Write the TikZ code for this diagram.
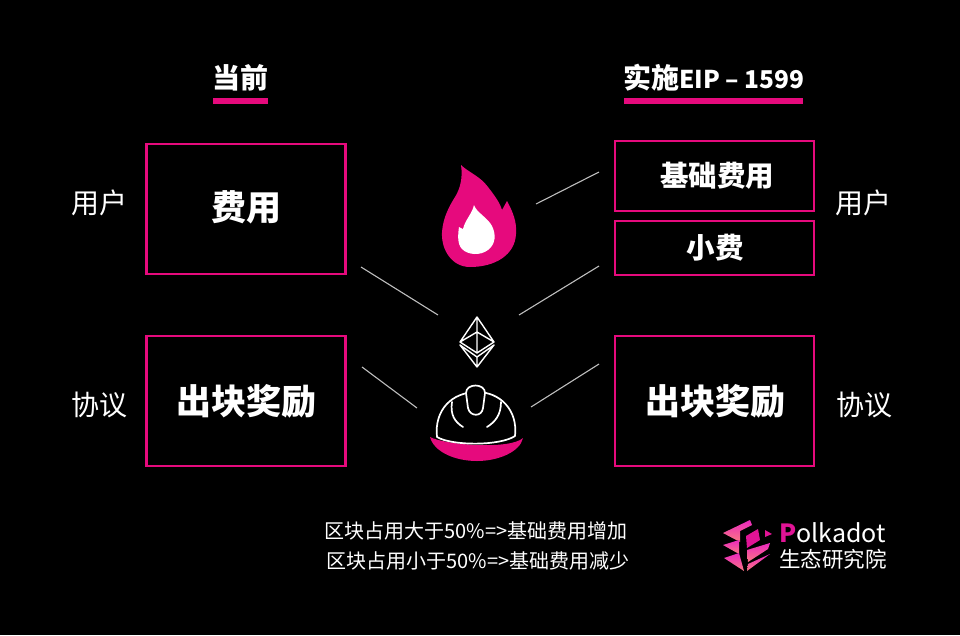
\documentclass[tikz,border=0pt]{standalone}
\usepackage{fontspec}
\setmainfont{Noto Sans CJK SC}
\usepackage{tikz}
\usetikzlibrary{positioning}
\definecolor{cPink}{RGB}{230,10,125}
\definecolor{cLine}{RGB}{190,190,190}
\definecolor{cLogoA}{RGB}{235,40,190}
\definecolor{cLogoB}{RGB}{250,120,130}
\definecolor{cLogoC}{RGB}{225,20,150}
\tikzset{
  feebox/.style={rectangle,draw=cPink,line width=2.2pt,inner sep=0pt,
                 align=center,text=white,font=\bfseries},
  sidelabel/.style={text=white,inner sep=0pt,font=\fontsize{28}{32}\selectfont},
  headlabel/.style={text=white,inner sep=0pt,font=\fontsize{28}{32}\selectfont\bfseries},
  headbar/.style={fill=cPink,draw=none,inner sep=0pt,minimum height=6pt},
  footlabel/.style={text=white,inner sep=0pt,font=\fontsize{20}{24}\selectfont},
  link/.style={draw=cLine,line width=1.1pt},
  iconline/.style={draw=white,line width=1.7pt,line join=round,line cap=round},
  logopart/.style={top color=cLogoA,bottom color=cLogoB,draw=none}
}
\begin{document}
\begin{tikzpicture}[x=1pt,y=-1pt]
  \fill[black] (0,0) rectangle (960,635);
  \useasboundingbox (0,0) rectangle (960,635);

  % headings
  \node[headlabel] (nowhead) at (240.5,78) {当前};
  \node[headbar,minimum width=55pt] (nowbar) at (240.5,100.5) {};
  \node[headlabel] (eiphead) at (714,78) {实施{\fontsize{24.5}{30}\selectfont EIP – 1599}};
  \node[headbar,minimum width=179pt] (eipbar) at (713.5,100.5) {};

  % left boxes
  \node[feebox,minimum width=199pt,minimum height=130pt,
        font=\fontsize{35}{40}\selectfont\bfseries] (fee) at (246,209)
      {\raisebox{6pt}{费用}};
  \node[feebox,minimum width=199pt,minimum height=130pt,
        font=\fontsize{35}{40}\selectfont\bfseries] (reward) at (246,401)
      {\raisebox{-5pt}{出块奖励}};

  % right boxes
  \node[feebox,minimum width=199pt,minimum height=70pt,
        font=\fontsize{28.5}{32}\selectfont\bfseries] (basefee) at (714.5,176)
      {\hspace{5pt}\raisebox{-3pt}{基础费用}};
  \node[feebox,minimum width=199pt,minimum height=54pt,
        font=\fontsize{28.5}{32}\selectfont\bfseries] (tip) at (714.5,248)
      {\hspace{1pt}小费};
  \node[feebox,minimum width=199pt,minimum height=130pt,
        font=\fontsize{35}{40}\selectfont\bfseries] (newreward) at (714.5,401)
      {\hspace{2pt}\raisebox{-5pt}{出块奖励}};

  % side labels
  \node[sidelabel] (userl) at (99.5,203) {用户};
  \node[sidelabel] (protol) at (99.5,405) {协议};
  \node[sidelabel] (userr) at (863.5,203) {用户};
  \node[sidelabel] (protor) at (864.5,405) {协议};

  % flame
  \fill[cPink] (461,165) .. controls (468,172) and (480,176) .. (488,187)
    .. controls (495,196) and (500,203) .. (502,210) -- (507,201)
    .. controls (513,212) and (517,222) .. (516,234)
    .. controls (515,255) and (495,267) .. (470,267)
    .. controls (452,267) and (441,250) .. (442,232)
    .. controls (443,217) and (450,205) .. (455,197)
    .. controls (460,189) and (463,178) .. (461,165) -- cycle;
  \fill[white] (474,205) .. controls (476,212) and (488,218) .. (492,226)
    .. controls (496,234) and (496,244) .. (488,250)
    .. controls (480,256) and (468,255) .. (462,249)
    .. controls (457,244) and (458,234) .. (459,227)
    -- (463,229) .. controls (465,220) and (472,214) .. (474,205) -- cycle;

  % ether
  \draw[iconline,line width=1.4pt] (477,317) -- (460,342) -- (477,353) -- (494,342) -- cycle
    (460,342) -- (477,332) -- (494,342) (477,317) -- (477,353)
    (460,345) -- (477,367) -- (494,345) (460,345) -- (477,357) -- (494,345)
    (477,357) -- (477,367);

  % helmet
  \fill[cPink] (430,437) .. controls (445,445) and (510,450) .. (523,438)
    .. controls (520,452) and (498,461) .. (477,461)
    .. controls (455,461) and (434,452) .. (430,437) -- cycle;
  \draw[iconline] (437,437) .. controls (434,410) and (452,392) .. (477,392)
    .. controls (500,392) and (518,410) .. (515,436)
    .. controls (500,446) and (452,446) .. (437,437) -- cycle;
  \draw[iconline,fill=black] (466,393) .. controls (466,383) and (485,383) .. (485,393)
    -- (483,408) .. controls (482,417) and (470,417) .. (468,408) -- cycle;
  \draw[iconline] (452,402) .. controls (450,415) and (455,422) .. (463,427)
    (501,402) .. controls (501,415) and (495,422) .. (487,427);

  % connectors
  \coordinate (feeout) at (361,267);
  \coordinate (feein) at (438,315);
  \coordinate (rewardout) at (362,367);
  \coordinate (rewardin) at (417,408);
  \coordinate (baseout) at (599,172);
  \coordinate (basein) at (536,204);
  \coordinate (tipout) at (599,266);
  \coordinate (tipin) at (519,315);
  \coordinate (newout) at (599,364);
  \coordinate (newin) at (531,407);
  \draw[link] (feeout) -- (feein);
  \draw[link] (rewardout) -- (rewardin);
  \draw[link] (baseout) -- (basein);
  \draw[link] (tipout) -- (tipin);
  \draw[link] (newout) -- (newin);

  % footer
  \node[footlabel] (footup) at (476,531) {区块占用大于50\%=>基础费用增加};
  \node[footlabel] (footdown) at (478,561) {区块占用小于50\%=>基础费用减少};

  % logo
  \fill[logopart] (723,533) -- (750,520) -- (752,525) -- (740,531) -- (740,542) -- cycle;
  \fill[logopart] (723,545) -- (739,540) -- (739,554) -- cycle;
  \fill[logopart] (724,558) -- (739,553) -- (744,571) -- cycle;
  \fill[cLogoC] (746,536) -- (758,529) -- (760,540) -- (747,548) -- cycle;
  \fill[logopart] (747,550) -- (770,543) -- (768,549) -- (748,562) -- cycle;
  \fill[logopart] (748,564) -- (770,554) -- (747,571) -- cycle;
  \fill[cLogoC] (765,530) -- (772,534) -- (765,537) -- cycle;
  \node[text=white,inner sep=0pt,anchor=base west,
        font=\fontsize{25}{28}\selectfont] (logotop) at (779,542)
      {{\bfseries\textcolor{cLogoC}{P}}olkadot};
  \node[text=white,inner sep=0pt,font=\fontsize{21.5}{24}\selectfont] (logobot) at (833,559) {生态研究院};
\end{tikzpicture}
\end{document}
